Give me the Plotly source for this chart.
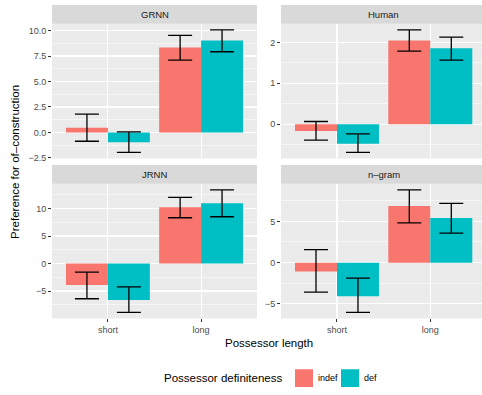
import plotly.graph_objects as go

W, H = 482, 395

facets = ["GRNN", "Human", "JRNN", "n\u2013gram"]
categories = ["short", "long"]
groups = ["indef", "def"]
colors = {"indef": "#F8766D", "def": "#00BFC4"}

grnn_indef = [0.47, 8.33]
grnn_indef_hi = [1.80, 9.52]
grnn_indef_lo = [-0.86, 7.10]
grnn_def = [-0.97, 9.03]
grnn_def_hi = [0.05, 10.07]
grnn_def_lo = [-1.95, 7.92]

human_indef = [-0.17, 2.05]
human_indef_hi = [0.065, 2.31]
human_indef_lo = [-0.39, 1.79]
human_def = [-0.48, 1.86]
human_def_hi = [-0.24, 2.13]
human_def_lo = [-0.69, 1.57]

jrnn_indef = [-3.90, 10.23]
jrnn_indef_hi = [-1.55, 12.03]
jrnn_indef_lo = [-6.40, 8.32]
jrnn_def = [-6.64, 10.95]
jrnn_def_hi = [-4.25, 13.40]
jrnn_def_lo = [-8.86, 8.50]

ngram_indef = [-1.08, 6.87]
ngram_indef_hi = [1.57, 8.83]
ngram_indef_lo = [-3.57, 4.82]
ngram_def = [-4.06, 5.42]
ngram_def_hi = [-1.89, 7.19]
ngram_def_lo = [-6.02, 3.58]

data = {
    "GRNN": {"indef": (grnn_indef, grnn_indef_hi, grnn_indef_lo),
             "def": (grnn_def, grnn_def_hi, grnn_def_lo)},
    "Human": {"indef": (human_indef, human_indef_hi, human_indef_lo),
              "def": (human_def, human_def_hi, human_def_lo)},
    "JRNN": {"indef": (jrnn_indef, jrnn_indef_hi, jrnn_indef_lo),
             "def": (jrnn_def, jrnn_def_hi, jrnn_def_lo)},
    "n\u2013gram": {"indef": (ngram_indef, ngram_indef_hi, ngram_indef_lo),
                    "def": (ngram_def, ngram_def_hi, ngram_def_lo)},
}

y_ticks = {
    "GRNN": ([-2.5, 0, 2.5, 5, 7.5, 10], ["\u22122.5", "0.0", "2.5", "5.0", "7.5", "10.0"], 1.25),
    "Human": ([0, 1, 2], ["0", "1", "2"], 0.5),
    "JRNN": ([-5, 0, 5, 10], ["\u22125", "0", "5", "10"], 2.5),
    "n\u2013gram": ([-5, 0, 5], ["\u22125", "0", "5"], 2.5),
}

FONT = "Liberation Sans, Arial, Helvetica, sans-serif"

left_x = (52, 257)
right_x = (281, 482)
top_y = (24, 160.5)
bot_y = (186, 322.5)
strip_h = 19

panel_px = {
    "GRNN": (left_x, top_y, True),
    "Human": (right_x, top_y, False),
    "JRNN": (left_x, bot_y, True),
    "n\u2013gram": (right_x, bot_y, False),
}

def px_x(x):
    return x / W

def px_y(y):
    return 1 - y / H

fig = go.Figure()
layout = {}
shapes = []
annotations = []

for i, f in enumerate(facets):
    n = i + 1
    xa = "x" if n == 1 else f"x{n}"
    ya = "y" if n == 1 else f"y{n}"
    for g in groups:
        vals, hi, lo = data[f][g]
        fig.add_trace(go.Bar(
            x=categories, y=vals, name=g, xaxis=xa, yaxis=ya,
            marker=dict(color=colors[g], line=dict(width=0)),
            showlegend=False, hoverinfo="skip",
            error_y=dict(type="data", symmetric=False,
                         array=[h - v for h, v in zip(hi, vals)],
                         arrayminus=[v - l for v, l in zip(vals, lo)],
                         color="black", thickness=1.3, width=12),
        ))
    (x0, x1), (y0, y1), is_left = panel_px[f]
    allv = [0]
    for g in groups:
        allv += data[f][g][1] + data[f][g][2]
    lo_v, hi_v = min(allv), max(allv)
    span = hi_v - lo_v
    yr = [lo_v - 0.05 * span, hi_v + 0.05 * span]
    xr_end = 1.6 if is_left else 1 + (482 - 430.3) / 93.3
    bottom = y0 > 100
    tv, tt, minor_d = y_ticks[f]
    layout["xaxis" if n == 1 else f"xaxis{n}"] = dict(
        domain=[px_x(x0), px_x(x1)], anchor=ya, type="category",
        categoryorder="array", categoryarray=categories,
        range=[-0.6, xr_end], showgrid=True, gridcolor="white", gridwidth=1.1,
        zeroline=False, showline=False, fixedrange=True,
        showticklabels=bottom, ticks="outside" if bottom else "",
        ticklen=3, tickcolor="#333333", tickwidth=1,
        tickfont=dict(family=FONT, size=9, color="#4D4D4D"),
    )
    layout["yaxis" if n == 1 else f"yaxis{n}"] = dict(
        domain=[px_y(y1), px_y(y0)], anchor=xa, range=yr,
        tickvals=tv, ticktext=tt, showgrid=True, gridcolor="white", gridwidth=1.1,
        minor=dict(dtick=minor_d, tick0=0, showgrid=True, gridcolor="white",
                   gridwidth=0.55, ticks=""),
        zeroline=False, showline=False, fixedrange=True,
        ticks="outside", ticklen=3, tickcolor="#333333", tickwidth=1,
        tickfont=dict(family=FONT, size=9, color="#4D4D4D"),
    )
    shapes.append(dict(type="rect", xref="paper", yref="paper",
                       x0=px_x(x0), x1=px_x(x1), y0=px_y(y1), y1=px_y(y0),
                       fillcolor="#EBEBEB", line=dict(width=0), layer="below"))
    shapes.append(dict(type="rect", xref="paper", yref="paper",
                       x0=px_x(x0), x1=px_x(x1), y0=px_y(y0), y1=px_y(y0 - strip_h),
                       fillcolor="#D9D9D9", line=dict(width=0), layer="below"))
    cx = (x0 + x0 + 2.2 * 93.3) / 2 if not is_left else (x0 + x1) / 2
    annotations.append(dict(text=f, xref="paper", yref="paper",
                            x=px_x(cx), y=px_y(y0 - strip_h / 2),
                            showarrow=False, xanchor="center", yanchor="middle",
                            font=dict(family=FONT, size=9.5, color="#1A1A1A")))

annotations.append(dict(text="Possessor length", xref="paper", yref="paper",
                        x=px_x(269), y=px_y(347), showarrow=False,
                        xanchor="center", yanchor="middle",
                        font=dict(family=FONT, size=11.5, color="black")))
annotations.append(dict(text="Preference for of\u2013construction", xref="paper", yref="paper",
                        x=px_x(15), y=px_y(164), showarrow=False, textangle=-90,
                        xanchor="center", yanchor="middle",
                        font=dict(family=FONT, size=11.5, color="black")))

annotations.append(dict(text="Possessor definiteness", xref="paper", yref="paper",
                        x=px_x(162), y=px_y(383), showarrow=False,
                        xanchor="left", yanchor="middle",
                        font=dict(family=FONT, size=11.5, color="black")))
legend_pos = {"indef": (295, 316), "def": (341, 362)}
for g in groups:
    sx, tx = legend_pos[g]
    shapes.append(dict(type="rect", xref="paper", yref="paper",
                       x0=px_x(sx), x1=px_x(sx + 18), y0=px_y(392), y1=px_y(374),
                       fillcolor=colors[g], line=dict(width=0)))
    annotations.append(dict(text=g, xref="paper", yref="paper",
                            x=px_x(tx), y=px_y(383), showarrow=False,
                            xanchor="left", yanchor="middle",
                            font=dict(family=FONT, size=9, color="black")))

fig.update_layout(
    **layout,
    width=W, height=H,
    margin=dict(l=0, r=0, t=0, b=0),
    paper_bgcolor="white", plot_bgcolor="rgba(0,0,0,0)",
    barmode="group", bargap=0.1, bargroupgap=0,
    showlegend=False, hovermode=False,
    shapes=shapes, annotations=annotations,
    font=dict(family=FONT),
)

fig.write_html("out.html", config={"displayModeBar": False, "staticPlot": True},
               post_script="document.body.style.margin='0';document.body.style.overflow='hidden';")
